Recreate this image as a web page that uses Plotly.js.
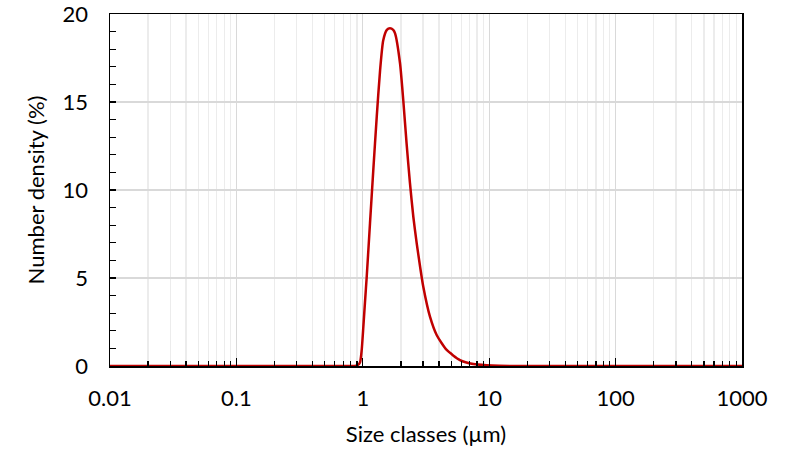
<!DOCTYPE html>
<html><head><meta charset="utf-8">
<script src="https://cdn.plot.ly/plotly-3.0.1.min.js"></script>
<style>body{margin:0;background:#fff}#c{width:789px;height:455px}</style>
</head><body><div id="c"></div>
<script>
const sizeClasses = [0.01,0.1,0.5,0.8,0.86,0.91,0.95,0.98,1.01,1.04,1.074,1.14,1.21,1.29,1.37,1.45,1.55,1.64,1.74,1.80,1.97,2.09,2.22,2.36,2.51,2.67,2.84,3.01,3.40,3.84,4.61,5.87,7.49,9.5,12,20,100,1000];
const numberDensity = [0,0,0,0,0,0.05,0.2,0.9,2.23,3.6,5.07,8.1,11.1,14.2,16.8,18.5,19.1,19.19,19.1,18.9,17.2,15.1,12.65,10.4,8.48,6.97,5.64,4.5,2.8,1.76,0.91,0.34,0.11,0.04,0.01,0,0,0];
const xTickVals = [0.01,0.1,1,10,100,1000];
const xTickText = ['0.01','0.1','1','10','100','1000'];

const font = {family:'Lato, "Open Sans", sans-serif', size:22, color:'#000'};
Plotly.newPlot('c', [{
  x: sizeClasses, y: numberDensity, type:'scatter', mode:'lines',
  line:{color:'#c00000', width:2.5, shape:'spline', smoothing:0.6}
}], {
  width:789, height:455,
  margin:{l:110, r:47, t:14, b:89},
  paper_bgcolor:'#fff', plot_bgcolor:'#fff',
  font: font,
  showlegend:false,
  xaxis:{
    type:'log', range:[-2,3], tickvals:xTickVals, ticktext:xTickText,
    ticks:'inside', ticklen:8, tickcolor:'#000', tickwidth:1.3,
    showline:true, linecolor:'#000', linewidth:1.5, mirror:true,
    showgrid:true, gridcolor:'#d9d9d9', gridwidth:1.3,
    zeroline:false, ticklabelstandoff:12, ticklabeloverflow:'allow',
    minor:{dtick:'D1', ticks:'inside', ticklen:5, tickcolor:'#000', tickwidth:1.3, showgrid:true, gridcolor:'#ececec', gridwidth:1.3},
    title:{text:'Size classes (µm)', font:font, standoff:16}
  },
  yaxis:{
    range:[0,20], dtick:5, ticks:'inside', ticklen:6, tickcolor:'#000', tickwidth:1.3,
    showline:true, linecolor:'#000', linewidth:1.5, mirror:true,
    showgrid:true, gridcolor:'#d9d9d9', gridwidth:1.3,
    zeroline:false, ticklabelstandoff:16, ticklabeloverflow:'allow',
    minor:{dtick:1, ticks:'inside', ticklen:6, tickcolor:'#000', tickwidth:1.3, showgrid:false},
    title:{text:'Number density (%)', font:font, standoff:12}
  }
}, {displayModeBar:false, staticPlot:true});
</script></body></html>
